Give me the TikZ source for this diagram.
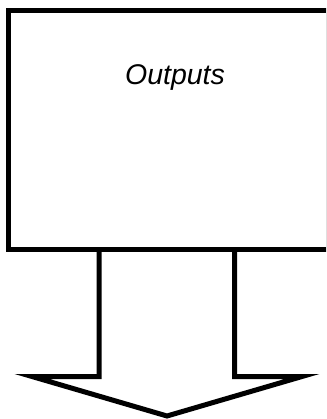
\documentclass[tikz,border=0pt]{standalone}
\usepackage{fontspec}
\setmainfont{Liberation Sans}
\begin{document}
\begin{tikzpicture}[x=1pt,y=-1pt,
  outline/.style={line width=5pt, line join=miter, miter limit=10},
  labeltext/.style={font=\fontsize{28.5}{34}\selectfont\itshape, anchor=base, inner sep=0pt}]
\useasboundingbox (0,0) rectangle (326,419);
\clip (0,0) rectangle (326,419);
\coordinate (boxtl) at (8.5,10.5);
\coordinate (boxbr) at (328,249.5);
\draw[outline] (boxtl) rectangle (boxbr);
\node[labeltext] (label) at (175,84.5) {Outputs};
\coordinate (sl) at (99,249.5);
\coordinate (sr) at (234.5,249.5);
\coordinate (slb) at (99,376.5);
\coordinate (srb) at (234.5,376.5);
\coordinate (hl) at (32,376.5);
\coordinate (hr) at (302,376.5);
\coordinate (tip) at (167,416);
\draw[outline] (sl) -- (slb) -- (hl) -- (tip) -- (hr) -- (srb) -- (sr);
\end{tikzpicture}
\end{document}
